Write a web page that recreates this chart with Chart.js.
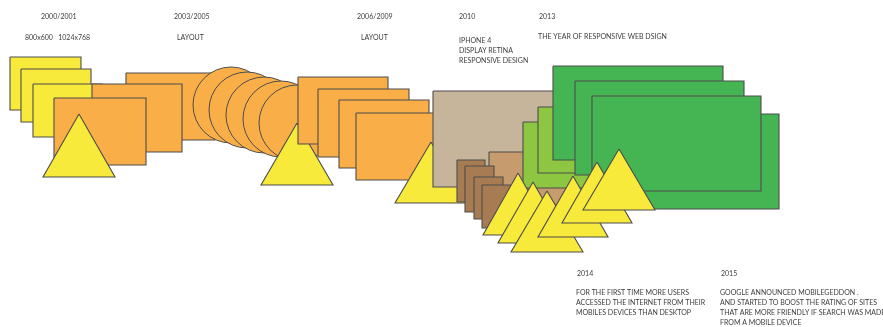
<!DOCTYPE html>
<html>
<head>
<meta charset="utf-8">
<script src="https://cdn.jsdelivr.net/npm/chart.js@4.4.0/dist/chart.umd.min.js"></script>
<style>
  html, body { margin: 0; padding: 0; background: #fff; }
  #wrap { width: 883px; height: 327px; position: relative; }
</style>
</head>
<body>
<div id="wrap"><canvas id="webTimeline"></canvas></div>
<script>
// Screens as [left, top, right, bottom], in the drawing's own units
const orangeBack = [[126, 73, 215, 140]];
const yellowScreens = [[10, 57, 81, 110], [21, 69, 91, 122], [33, 84, 102, 137]];
const orangeScreens2000 = [[92, 84, 182, 152], [54, 98, 146, 165]];
const orangeScreens2006 = [[298, 77, 388, 144], [318, 89, 409, 157], [339, 100, 429, 168], [356, 113, 446, 180]];
const retinaScreen = [[433, 91, 575, 187]];
const tabletScreen = [[489, 152, 575, 205]];
const lightGreenScreens = [[523, 122, 600, 188], [538, 107, 600, 173]];
const phoneScreens = [[457, 160, 485, 202], [465, 166, 494, 212], [474, 177, 503, 219], [482, 185, 511, 228]];
const greenScreens = [[609, 114, 779, 209], [553, 66, 723, 160], [575, 81, 744, 175], [592, 96, 761, 191]];

// Layout circles as [centreX, centreY]
const layoutCircles = [[231, 105], [247, 110], [264, 115], [281, 119], [297, 123]];
const circleRadius = 38;

// Triangles as [apexX, apexY, baseY, halfWidth]
const triangle2000 = [[79, 114, 177, 36]];
const triangle2003 = [[297, 123, 185, 36]];
const triangle2006 = [[431, 142, 203, 36]];
const triangles2014 = [[518, 173, 235, 35], [533, 182, 243, 35], [547, 191, 252, 36],
                       [573, 176, 237, 35], [597, 162, 223, 35], [619, 149, 210, 36]];

// Notes
const noteYears = ['2000/2001', '2003/2005', '2006/2009', '2010', '2013', '2014', '2015'];
const noteYearX = [41, 174, 357, 459, 539, 577, 721];
const noteYearY = [17, 17, 17, 17, 17, 274, 274];
const noteLines = [
  ['800x600   1024x768'],
  ['LAYOUT'],
  ['LAYOUT'],
  ['IPHONE 4', 'DISPLAY RETINA', 'RESPONSIVE DESIGN'],
  ['THE YEAR OF RESPONSIVE WEB DSIGN'],
  ['FOR THE FIRST TIME MORE USERS', 'ACCESSED THE INTERNET FROM THEIR', 'MOBILES DEVICES THAN DESKTOP'],
  ['GOOGLE ANNOUNCED MOBILEGEDDON .', 'AND STARTED TO BOOST THE RATING OF SITES',
   'THAT ARE MORE FRIENDLY IF SEARCH WAS MADE', 'FROM A MOBILE DEVICE']
];
const noteX = [25, 177, 361, 459, 538, 576, 720];
const noteY = [38, 38, 38, 41, 37, 293, 293];

const YELLOW = '#f8ea3a';
const ORANGE = '#f9ae48';
const BEIGE = '#c6b59a';
const TAN = '#c69b6d';
const BROWN = '#a77c52';
const LIGHT_GREEN = '#8dc641';
const GREEN = '#45b553';
const EDGE = '#4d4d4d';

function rectPoints(r) {
  const [l, t, rt, b] = r;
  return [{x: l, y: t}, {x: rt, y: t}, {x: rt, y: b}, {x: l, y: b}, {x: l, y: t}];
}

function triPoints(tr) {
  const [ax, ay, by, hw] = tr;
  return [{x: ax, y: ay}, {x: ax + hw, y: by}, {x: ax - hw, y: by}, {x: ax, y: ay}];
}

function shapeSets(list, toPoints, color) {
  return list.map(item => ({
    data: toPoints(item),
    showLine: true,
    fill: 'shape',
    backgroundColor: color,
    borderColor: EDGE,
    borderWidth: 1.1,
    borderJoinStyle: 'miter',
    pointRadius: 0,
    tension: 0
  }));
}

const circleSet = {
  data: layoutCircles.map(c => ({x: c[0], y: c[1]})),
  showLine: false,
  pointStyle: 'circle',
  pointRadius: circleRadius,
  pointHoverRadius: circleRadius,
  backgroundColor: ORANGE,
  borderColor: EDGE,
  borderWidth: 1
};

// bottom to top
const layers = [
  ...shapeSets(orangeBack, rectPoints, ORANGE),
  ...shapeSets(yellowScreens, rectPoints, YELLOW),
  ...shapeSets(orangeScreens2000, rectPoints, ORANGE),
  ...shapeSets(triangle2000, triPoints, YELLOW),
  circleSet,
  ...shapeSets(triangle2003, triPoints, YELLOW),
  ...shapeSets(orangeScreens2006, rectPoints, ORANGE),
  ...shapeSets(triangle2006, triPoints, YELLOW),
  ...shapeSets(retinaScreen, rectPoints, BEIGE),
  ...shapeSets(tabletScreen, rectPoints, TAN),
  ...shapeSets(lightGreenScreens, rectPoints, LIGHT_GREEN),
  ...shapeSets(phoneScreens, rectPoints, BROWN),
  ...shapeSets(greenScreens, rectPoints, GREEN),
  ...shapeSets(triangles2014, triPoints, YELLOW)
];
layers.forEach((ds, i) => { ds.order = layers.length - i; });

const notesPlugin = {
  id: 'notes',
  afterDatasetsDraw(chart) {
    const {ctx, scales: {x, y}} = chart;
    ctx.save();
    ctx.fillStyle = '#3c3c3c';
    ctx.font = '7px Lato';
    ctx.textBaseline = 'middle';
    noteYears.forEach((yr, i) => {
      ctx.fillText(yr, x.getPixelForValue(noteYearX[i]), y.getPixelForValue(noteYearY[i]));
      noteLines[i].forEach((line, j) => {
        ctx.fillText(line, x.getPixelForValue(noteX[i]), y.getPixelForValue(noteY[i] + j * 9.8));
      });
    });
    ctx.restore();
  }
};

new Chart(document.getElementById('webTimeline'), {
  type: 'scatter',
  data: { datasets: layers },
  options: {
    responsive: true,
    maintainAspectRatio: false,
    animation: false,
    layout: { padding: 0, autoPadding: false },
    plugins: { legend: { display: false }, tooltip: { enabled: false } },
    events: [],
    scales: {
      x: { type: 'linear', min: 0, max: 883, display: false },
      y: { type: 'linear', min: 0, max: 327, reverse: true, display: false }
    }
  },
  plugins: [notesPlugin]
});
</script>
</body>
</html>
